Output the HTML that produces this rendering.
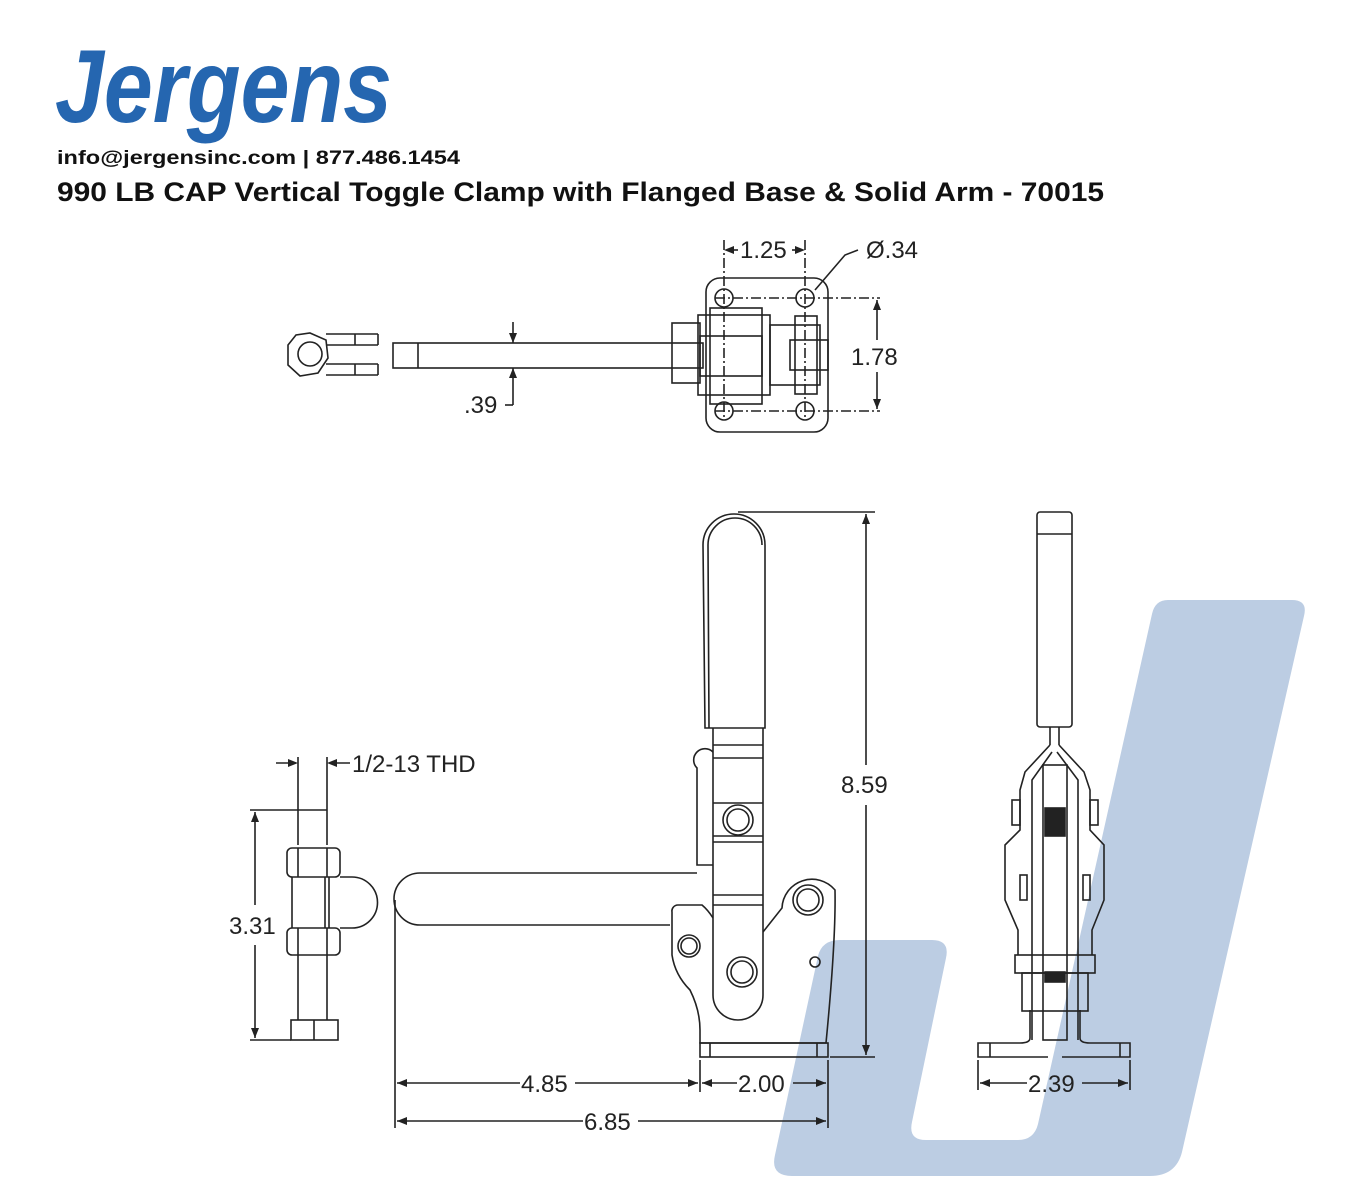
<!DOCTYPE html>
<html><head><meta charset="utf-8"><style>
html,body{margin:0;padding:0;background:#fff;}
svg{display:block;}
</style></head><body>
<svg width="1360" height="1200" viewBox="0 0 1360 1200" xmlns="http://www.w3.org/2000/svg">
<!-- watermark J -->
<path d="M1168,600 L1292,600 Q1308,600 1304,616 L1182,1152 Q1176,1176 1150,1176 L792,1176 Q770,1176 775,1155 L818,956 Q822,940 840,940 L932,940 Q950,940 946,958 L912,1122 Q908,1140 926,1140 L1018,1140 Q1034,1140 1038,1124 L1152,614 Q1155,600 1168,600 Z" fill="#bccde3"/>

<!-- logo -->
<text x="55" y="122" font-family="Liberation Sans, sans-serif" font-weight="bold" font-style="italic" font-size="104" fill="#2566b0" textLength="337" lengthAdjust="spacingAndGlyphs">Jergens</text>
<text x="57" y="164" font-family="Liberation Sans, sans-serif" font-weight="bold" font-size="19" fill="#111" textLength="403" lengthAdjust="spacingAndGlyphs">info@jergensinc.com | 877.486.1454</text>
<text x="57" y="201" font-family="Liberation Sans, sans-serif" font-weight="bold" font-size="27" fill="#111" textLength="1047" lengthAdjust="spacingAndGlyphs">990 LB CAP Vertical Toggle Clamp with Flanged Base &amp; Solid Arm - 70015</text>

<g fill="none" stroke="#222" stroke-width="1.6" font-family="Liberation Sans, sans-serif">
<!-- TOP VIEW -->
<polygon points="310,333 326,340 328,358 318,373 300,376 288,365 288,345 296,335"/>
<circle cx="310" cy="354" r="12"/>
<line x1="326" y1="334" x2="378" y2="334"/><line x1="326" y1="345" x2="378" y2="345"/><line x1="378" y1="334" x2="378" y2="345"/>
<line x1="326" y1="364" x2="378" y2="364"/><line x1="326" y1="375" x2="378" y2="375"/><line x1="378" y1="364" x2="378" y2="375"/>
<line x1="355" y1="334" x2="355" y2="345"/><line x1="355" y1="364" x2="355" y2="375"/>
<rect x="393" y="343" width="310" height="25"/><line x1="418" y1="343" x2="418" y2="368"/>
<line x1="513" y1="322" x2="513" y2="343"/><line x1="513" y1="368" x2="513" y2="405"/><line x1="505" y1="405" x2="513" y2="405"/>
<rect x="706" y="278" width="122" height="154" rx="14"/>
<circle cx="724" cy="298" r="9"/><circle cx="805" cy="298" r="9"/><circle cx="724" cy="411" r="9"/><circle cx="805" cy="411" r="9"/>
<rect x="672" y="323" width="28" height="60"/>
<rect x="698" y="315" width="72" height="80"/>
<rect x="710" y="308" width="52" height="96"/>
<rect x="700" y="336" width="62" height="40"/>
<rect x="770" y="325" width="50" height="60"/>
<rect x="790" y="340" width="38" height="30"/>
<rect x="795" y="316" width="22" height="78"/>
<line x1="724" y1="240" x2="724" y2="420" stroke-dasharray="10,3,2,3"/><line x1="805" y1="240" x2="805" y2="420" stroke-dasharray="10,3,2,3"/>
<line x1="715" y1="298" x2="880" y2="298" stroke-dasharray="10,3,2,3"/><line x1="715" y1="411" x2="880" y2="411" stroke-dasharray="10,3,2,3"/>
<line x1="728" y1="250" x2="738" y2="250"/><line x1="792" y1="250" x2="802" y2="250"/>
<polyline points="815,290 845,255 858,250"/>
<line x1="877" y1="300" x2="877" y2="340"/><line x1="877" y1="372" x2="877" y2="409"/>

<!-- STUD -->
<line x1="276" y1="763" x2="296" y2="763"/><line x1="330" y1="763" x2="350" y2="763"/>
<line x1="298" y1="757" x2="298" y2="845"/><line x1="327" y1="757" x2="327" y2="845"/>
<line x1="250" y1="810" x2="298" y2="810"/><line x1="298" y1="810" x2="327" y2="810"/>
<rect x="287" y="848" width="53" height="29" rx="5"/><line x1="298" y1="848" x2="298" y2="877"/><line x1="327" y1="848" x2="327" y2="877"/>
<rect x="287" y="928" width="53" height="27" rx="5"/><line x1="298" y1="928" x2="298" y2="955"/><line x1="327" y1="928" x2="327" y2="955"/>
<line x1="292" y1="877" x2="292" y2="928"/><line x1="325" y1="877" x2="325" y2="928"/><line x1="329" y1="877" x2="329" y2="928"/>
<path d="M340,877 L352,877 A25.5,25.5 0 0 1 352,928 L340,928"/>
<line x1="298" y1="955" x2="298" y2="1020"/><line x1="327" y1="955" x2="327" y2="1020"/>
<rect x="291" y="1020" width="47" height="20"/><line x1="314" y1="1020" x2="314" y2="1040"/>
<line x1="250" y1="1040" x2="291" y2="1040"/>
<line x1="255" y1="812" x2="255" y2="905"/><line x1="255" y1="945" x2="255" y2="1038"/>

<!-- FRONT VIEW -->
<path d="M705,728 L703,545 A31,31 0 0 1 765,545 L765,728 Z"/>
<path d="M709,728 L708,545 A27,27 0 0 1 762,545"/>
<path d="M713,728 L713,995 A25,25 0 0 0 763,995 L763,728"/>
<line x1="713" y1="745" x2="763" y2="745"/><line x1="713" y1="758" x2="763" y2="758"/>
<line x1="713" y1="803" x2="763" y2="803"/><line x1="713" y1="836" x2="763" y2="836"/><line x1="713" y1="842" x2="763" y2="842"/>
<line x1="713" y1="895" x2="763" y2="895"/><line x1="713" y1="905" x2="763" y2="905"/>
<path d="M713,752 A10,10 0 0 0 697,768 L697,865 L713,865"/>
<circle cx="738" cy="820" r="15"/><circle cx="738" cy="820" r="11"/>
<circle cx="742" cy="972" r="15"/><circle cx="742" cy="972" r="11"/>
<circle cx="689" cy="946" r="11"/><circle cx="689" cy="946" r="8"/>
<circle cx="808" cy="900" r="15"/><circle cx="808" cy="900" r="11"/>
<circle cx="815" cy="962" r="5"/>
<path d="M697,873 L420,873 A26,26 0 0 0 420,925 L670,925"/>
<path d="M763,932 L782,908 A30,30 0 0 1 835,890 Q836,940 826,1043 L700,1043 L700,1030 Q700,1010 690,990 Q675,975 672,955 L672,912 A6,6 0 0 1 678,905 L702,905 Q708,910 713,918"/>
<rect x="700" y="1043" width="128" height="14"/>
<line x1="710" y1="1043" x2="710" y2="1057"/><line x1="817" y1="1043" x2="817" y2="1057"/>
<line x1="738" y1="512" x2="875" y2="512"/><line x1="830" y1="1057" x2="875" y2="1057"/>
<line x1="866" y1="514" x2="866" y2="765"/><line x1="866" y1="805" x2="866" y2="1055"/>
<line x1="395" y1="900" x2="395" y2="1128"/><line x1="700" y1="1060" x2="700" y2="1092"/><line x1="828" y1="1060" x2="828" y2="1128"/>
<line x1="397" y1="1083" x2="520" y2="1083"/><line x1="575" y1="1083" x2="698" y2="1083"/>
<line x1="702" y1="1083" x2="737" y2="1083"/><line x1="793" y1="1083" x2="826" y2="1083"/>
<line x1="397" y1="1121" x2="583" y2="1121"/><line x1="638" y1="1121" x2="826" y2="1121"/>

<!-- SIDE VIEW -->
<rect x="1037" y="512" width="35" height="215" rx="3"/><line x1="1037" y1="534" x2="1072" y2="534"/>
<line x1="1050" y1="727" x2="1050" y2="745"/><line x1="1059" y1="727" x2="1059" y2="745"/>
<path d="M1050,745 L1025,772 L1020,790 L1020,830 L1005,845 L1005,900 L1018,930 L1018,955"/>
<path d="M1059,745 L1084,772 L1090,790 L1090,830 L1104,845 L1104,900 L1092,930 L1092,955"/>
<path d="M1052,752 L1032,780 L1032,1040"/><path d="M1057,752 L1078,780 L1078,1040"/>
<rect x="1043" y="765" width="24" height="275"/>
<rect x="1045" y="808" width="20" height="28" fill="#222"/>
<rect x="1045" y="972" width="20" height="10" fill="#222"/>
<rect x="1015" y="955" width="80" height="18"/>
<rect x="1022" y="973" width="66" height="38"/>
<rect x="1012" y="800" width="8" height="25"/><rect x="1090" y="800" width="8" height="25"/>
<rect x="1020" y="875" width="7" height="25"/><rect x="1083" y="875" width="7" height="25"/>
<path d="M1030,1010 L1030,1038 Q1030,1043 1020,1043 L978,1043 L978,1057 L1048,1057"/>
<path d="M1080,1010 L1080,1038 Q1080,1043 1090,1043 L1130,1043 L1130,1057 L1062,1057"/>
<line x1="990" y1="1043" x2="990" y2="1057"/><line x1="1120" y1="1043" x2="1120" y2="1057"/>
<line x1="978" y1="1060" x2="978" y2="1090"/><line x1="1130" y1="1060" x2="1130" y2="1090"/>
<line x1="980" y1="1083" x2="1027" y2="1083"/><line x1="1082" y1="1083" x2="1128" y2="1083"/>
</g>

<g fill="#222" stroke="none">
<polygon points="513,343 509,333 517,333"/><polygon points="513,368 509,378 517,378"/>
<polygon points="724,250 734,246 734,254"/><polygon points="805,250 795,246 795,254"/>
<polygon points="877,300 873,310 881,310"/><polygon points="877,409 873,399 881,399"/>
<polygon points="298,763 288,759 288,767"/><polygon points="327,763 337,759 337,767"/>
<polygon points="255,812 251,822 259,822"/><polygon points="255,1038 251,1028 259,1028"/>
<polygon points="866,514 862,524 870,524"/><polygon points="866,1055 862,1045 870,1045"/>
<polygon points="397,1083 407,1079 407,1087"/><polygon points="698,1083 688,1079 688,1087"/>
<polygon points="702,1083 712,1079 712,1087"/><polygon points="826,1083 816,1079 816,1087"/>
<polygon points="397,1121 407,1117 407,1125"/><polygon points="826,1121 816,1117 816,1125"/>
<polygon points="980,1083 990,1079 990,1087"/><polygon points="1128,1083 1118,1079 1118,1087"/>
</g>

<g font-family="Liberation Sans, sans-serif" font-size="24" fill="#222">
<text x="740" y="258">1.25</text>
<text x="866" y="258">Ø.34</text>
<text x="851" y="365">1.78</text>
<text x="464" y="413">.39</text>
<text x="352" y="772">1/2-13 THD</text>
<text x="229" y="934">3.31</text>
<text x="841" y="793">8.59</text>
<text x="521" y="1092">4.85</text>
<text x="738" y="1092">2.00</text>
<text x="584" y="1130">6.85</text>
<text x="1028" y="1092">2.39</text>
</g>
</svg>
</body></html>
